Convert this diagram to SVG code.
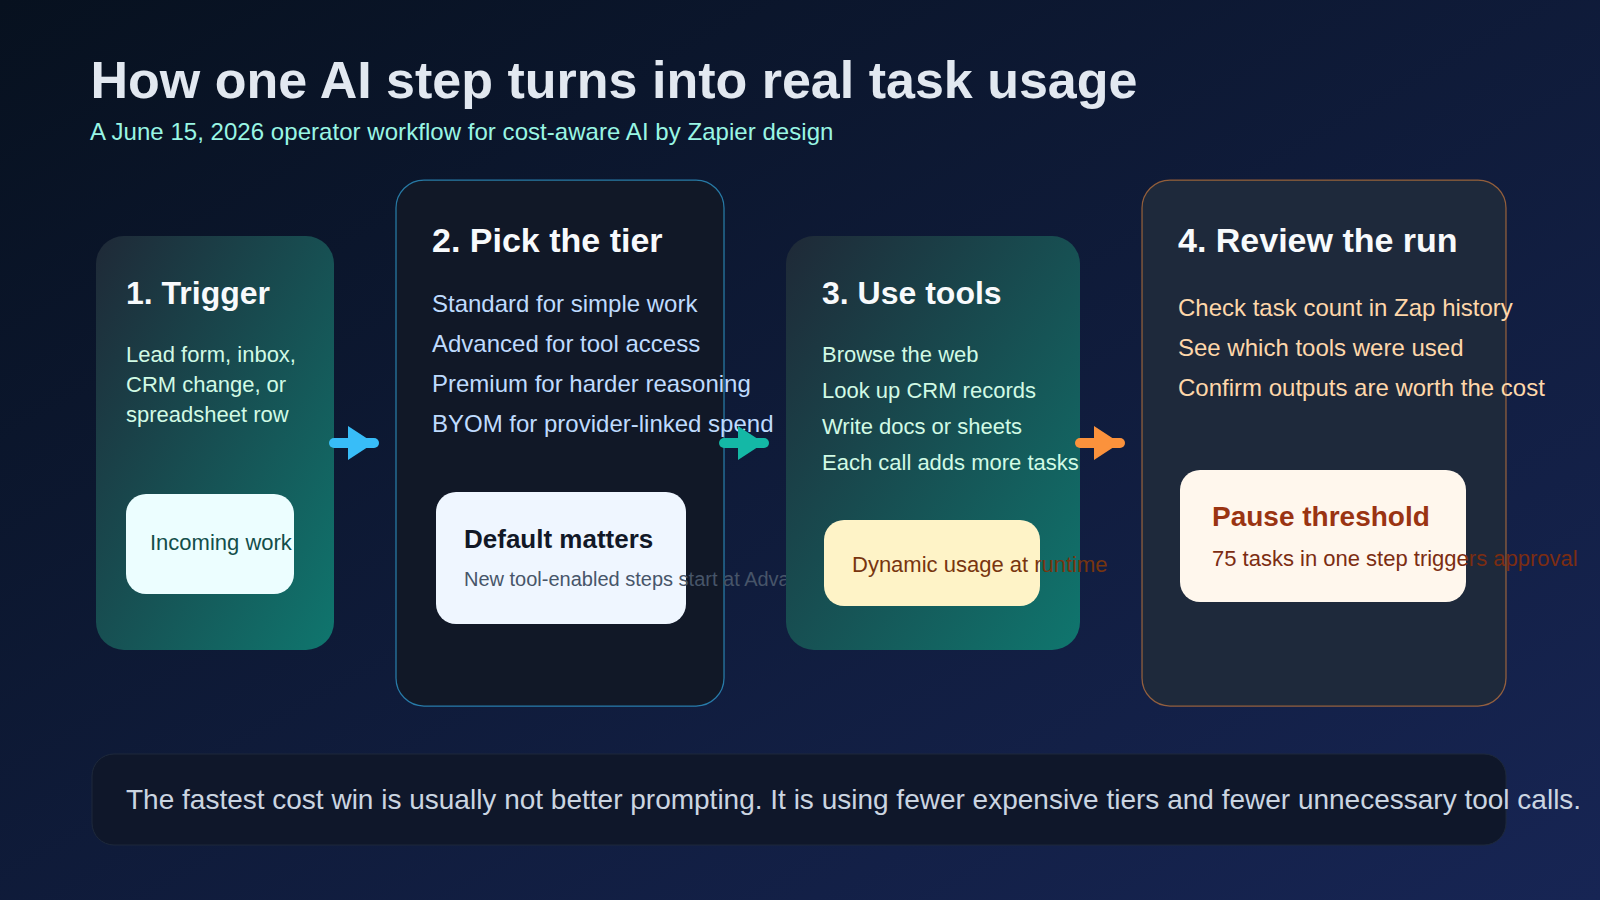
<svg xmlns="http://www.w3.org/2000/svg" width="1600" height="900" viewBox="0 0 1600 900">
<defs>
<linearGradient id="bg" x1="0" y1="0" x2="1" y2="1"><stop offset="0" stop-color="#07111f"/><stop offset="1" stop-color="#172554"/></linearGradient>
<linearGradient id="teal" x1="0" y1="0" x2="1" y2="1"><stop offset="0" stop-color="#1f2937"/><stop offset="1" stop-color="#0f766e"/></linearGradient>
</defs>
<style>
text{font-family:"Liberation Sans",Arial,sans-serif}
.h{font-size:34px;font-weight:700;fill:#f8fafc}
.s{font-size:32px;font-weight:700;fill:#f8fafc}
.g{font-size:22px;fill:#d1fae5}
.b{font-size:24px;fill:#bfdbfe}
.o{font-size:24px;fill:#fed7aa}
</style>
<rect width="1600" height="900" fill="url(#bg)"/>
<text x="90.5" y="98" font-size="52" font-weight="700" fill="#e2e8f0">How one AI step turns into real task usage</text>
<text x="90" y="140" font-size="24" letter-spacing="0.045" fill="#99f6e4">A June 15, 2026 operator workflow for cost-aware AI by Zapier design</text>
<g id="node-1">
<rect x="96" y="236" width="238" height="414" rx="28" fill="url(#teal)"/>
<text class="s" x="126" y="304">1. Trigger</text>
<text class="g" x="126" y="362">Lead form, inbox,</text>
<text class="g" x="126" y="392">CRM change, or</text>
<text class="g" x="126" y="422">spreadsheet row</text>
<rect x="126" y="494" width="168" height="100" rx="20" fill="#ecfeff"/>
<text x="150" y="550" font-size="22" fill="#134e4a">Incoming work</text>
</g>
<g id="node-2">
<rect x="396" y="180" width="328" height="526" rx="28" fill="#111827" stroke="#38bdf8" stroke-opacity=".6" stroke-width="1.25"/>
<text class="h" x="432" y="252">2. Pick the tier</text>
<text class="b" x="432" y="312">Standard for simple work</text>
<text class="b" x="432" y="352">Advanced for tool access</text>
<text class="b" x="432" y="392">Premium for harder reasoning</text>
<text class="b" x="432" y="432">BYOM for provider-linked spend</text>
<rect x="436" y="492" width="250" height="132" rx="20" fill="#eff6ff"/>
<text x="464" y="548" font-size="26" font-weight="700" fill="#111827">Default matters</text>
<text x="464" y="586" font-size="20" fill="#475569">New tool-enabled steps start at Advanced</text>
</g>
<g id="node-3">
<rect x="786" y="236" width="294" height="414" rx="28" fill="url(#teal)"/>
<text class="s" x="822" y="304">3. Use tools</text>
<text class="g" x="822" y="362">Browse the web</text>
<text class="g" x="822" y="398">Look up CRM records</text>
<text class="g" x="822" y="434">Write docs or sheets</text>
<text class="g" x="822" y="470">Each call adds more tasks</text>
<rect x="824" y="520" width="216" height="86" rx="20" fill="#fef3c7"/>
<text x="852" y="572" font-size="22" fill="#78350f">Dynamic usage at runtime</text>
</g>
<g id="node-4">
<rect x="1142" y="180" width="364" height="526" rx="28" fill="#1e293b" stroke="#fb923c" stroke-opacity=".55" stroke-width="1.25"/>
<text class="h" x="1178" y="252">4. Review the run</text>
<text class="o" x="1178" y="316">Check task count in Zap history</text>
<text class="o" x="1178" y="356">See which tools were used</text>
<text class="o" x="1178" y="396">Confirm outputs are worth the cost</text>
<rect x="1180" y="470" width="286" height="132" rx="20" fill="#fff7ed"/>
<text x="1212" y="526" font-size="28" font-weight="700" fill="#9a3412">Pause threshold</text>
<text x="1212" y="566" font-size="22" fill="#7c2d12">75 tasks in one step triggers approval</text>
</g>
<g id="node-5">
<rect x="92" y="754" width="1414" height="91" rx="22" fill="#0f172a" stroke="#1e293b"/>
<text x="126" y="809" font-size="28" fill="#cbd5e1">The fastest cost win is usually not better prompting. It is using fewer expensive tiers and fewer unnecessary tool calls.</text>
</g>
<g id="connectors">
<path d="M334 443H374" stroke="#38bdf8" stroke-width="10" stroke-linecap="round" fill="none"/><path d="M348 426L374 443L348 460Z" fill="#38bdf8"/>
<path d="M724 443H764" stroke="#14b8a6" stroke-width="10" stroke-linecap="round" fill="none"/><path d="M738 426L764 443L738 460Z" fill="#14b8a6"/>
<path d="M1080 443H1120" stroke="#fb923c" stroke-width="10" stroke-linecap="round" fill="none"/><path d="M1094 426L1120 443L1094 460Z" fill="#fb923c"/>
</g>
</svg>
